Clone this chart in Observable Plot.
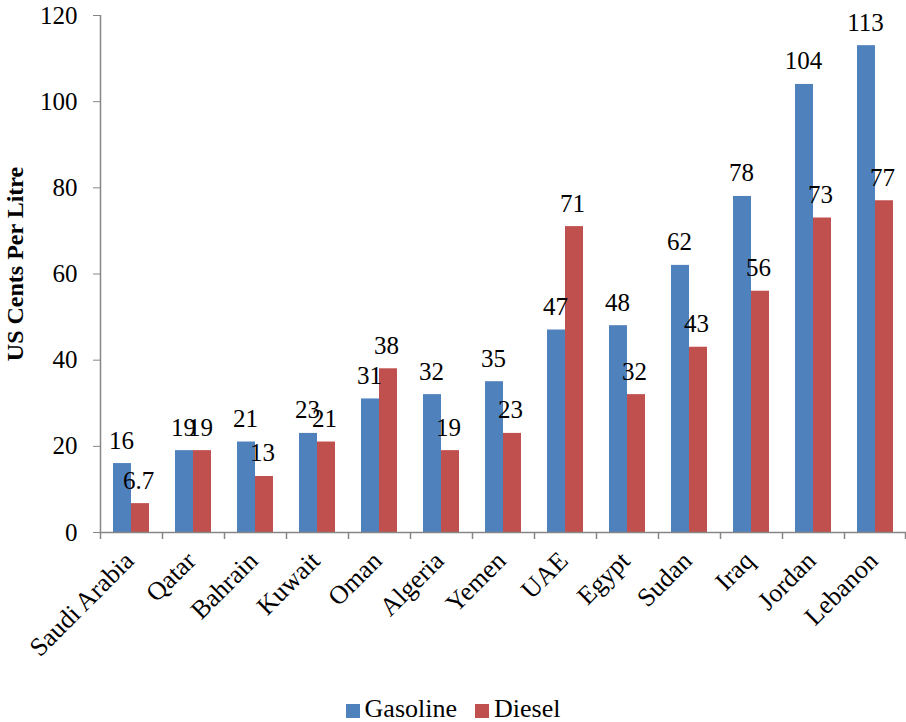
<!DOCTYPE html>
<html>
<head>
<meta charset="utf-8">
<script src="https://cdn.jsdelivr.net/npm/d3@7"></script>
<script src="https://cdn.jsdelivr.net/npm/@observablehq/plot@0.6"></script>
<style>
  html, body { margin: 0; padding: 0; background: #fff; }
  #wrap { position: relative; width: 906px; height: 722px; font-family: "Liberation Serif", "Times New Roman", serif; }
  #legend { position: absolute; left: 0; top: 693px; width: 906px; text-align: center; font-size: 26px; line-height: 32px; color: #000; }
  #legend span.item { display: inline-block; margin: 0 9px; }
  #legend i { display: inline-block; width: 14px; height: 14px; margin-right: 5px; vertical-align: -1px; }
</style>
</head>
<body>
<div id="wrap">
  <div id="chart"></div>
  <div id="legend"></div>
</div>
<script>
// Retail fuel prices in Arab countries, US cents per litre
const countries = ["Saudi Arabia", "Qatar", "Bahrain", "Kuwait", "Oman", "Algeria", "Yemen", "UAE", "Egypt", "Sudan", "Iraq", "Jordan", "Lebanon"];
const gasoline = [16, 19, 21, 23, 31, 32, 35, 47, 48, 62, 78, 104, 113];
const diesel = [6.7, 19, 13, 21, 38, 19, 23, 71, 32, 43, 56, 73, 77];
const yTicks = [0, 20, 40, 60, 80, 100, 120];
const series = ["Gasoline", "Diesel"];
const colors = ["#4F81BD", "#C0504D"];

const gasRows = countries.map((c, i) => ({country: c, value: gasoline[i]}));
const dslRows = countries.map((c, i) => ({country: c, value: diesel[i]}));

const serif = "Liberation Serif, Times New Roman, serif";
const axisGray = "#868686";
const W = 906, H = 690, ML = 100, MR = 0, MT = 15, MB = 158;
const step = (W - ML - MR) / countries.length;

const chart = Plot.plot({
  width: W,
  height: H,
  marginLeft: ML,
  marginRight: MR,
  marginTop: MT,
  marginBottom: MB,
  style: {fontFamily: serif, color: "#000", background: "#fff"},
  x: {domain: countries, padding: 0, axis: null},
  y: {domain: [0, 120], axis: null},
  marks: [
    // bars: gasoline on the left half, diesel on the right half of each band
    Plot.barY(gasRows, {x: "country", y: "value", fill: colors[0], insetLeft: 13, insetRight: 31}),
    Plot.barY(dslRows, {x: "country", y: "value", fill: colors[1], insetLeft: 31, insetRight: 13}),
    // value labels
    Plot.text(gasRows, {x: "country", y: "value", text: d => String(d.value), dx: -10, dy: -15, lineAnchor: "bottom", fontSize: 25, fontFamily: serif, fill: "#000"}),
    Plot.text(dslRows, {x: "country", y: "value", text: d => String(d.value), dx: 7, dy: -15, lineAnchor: "bottom", fontSize: 25, fontFamily: serif, fill: "#000"}),
    // y axis line and ticks
    Plot.ruleX([countries[0]], {dx: -step / 2, stroke: axisGray, strokeWidth: 1.5}),
    Plot.axisY({ticks: yTicks, tickSize: 7, tickPadding: 16, fontSize: 25, fontFamily: serif, stroke: axisGray, fill: "#000", label: null}),
    // x axis line and category boundary ticks
    Plot.ruleY([0], {stroke: axisGray, strokeWidth: 1.5}),
    Plot.ruleX(countries, {dx: -step / 2, y1: 0, y2: 0, insetBottom: -7, stroke: axisGray, strokeWidth: 1.5}),
    Plot.ruleX([countries[countries.length - 1]], {dx: step / 2 - 1, y1: 0, y2: 0, insetBottom: -7, stroke: axisGray, strokeWidth: 1.5}),
    Plot.axisX({tickRotate: -45, tickSize: 0, tickPadding: 24, dx: -2, fontSize: 26, fontFamily: serif, fill: "#000", label: null}),
    // y axis title
    Plot.text(["US Cents Per Litre"], {frameAnchor: "left", textAnchor: "middle", rotate: -90, dx: -85, dy: -10, fontSize: 24, fontWeight: "bold", fontFamily: serif, fill: "#000"})
  ]
});
document.getElementById("chart").appendChild(chart);

// legend below the chart
const legend = document.getElementById("legend");
series.forEach((s, i) => {
  const item = document.createElement("span");
  item.className = "item";
  const sw = document.createElement("i");
  sw.style.background = colors[i];
  item.appendChild(sw);
  item.appendChild(document.createTextNode(s));
  legend.appendChild(item);
});
</script>
</body>
</html>
